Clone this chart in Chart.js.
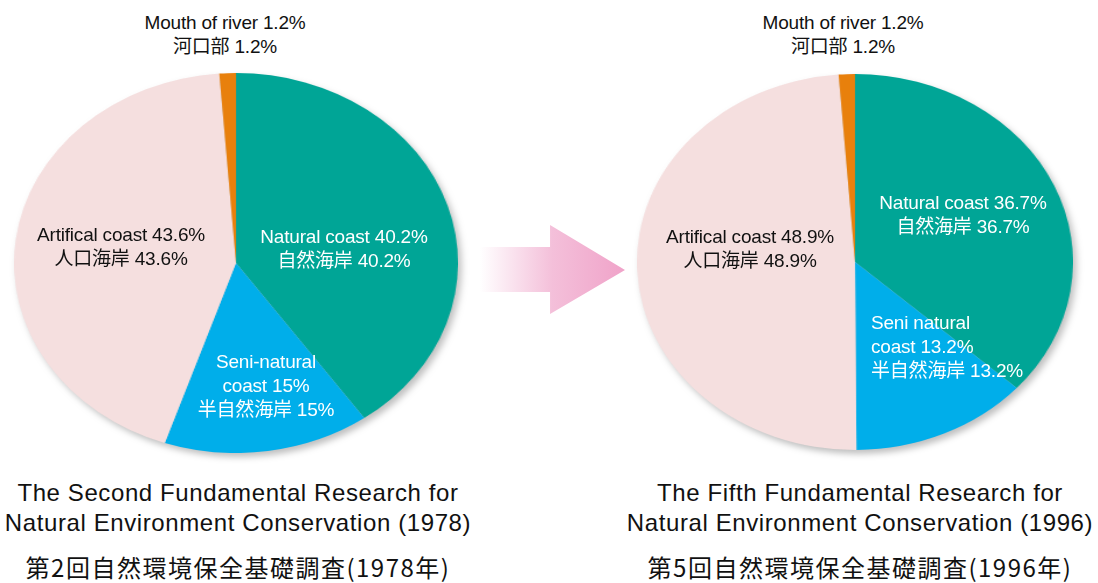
<!DOCTYPE html>
<html>
<head>
<meta charset="utf-8">
<script src="https://cdn.jsdelivr.net/npm/chart.js@4"></script>
<style>
  body { margin: 0; background: #ffffff; }
  #page { position: relative; width: 1098px; height: 583px; overflow: hidden;
          font-family: "Liberation Sans", Arial, "Noto Sans CJK JP", sans-serif; color: #111; }
  .pie { position: absolute; }
  .lbl { position: absolute; font-size: 19px; line-height: 24px; white-space: nowrap; letter-spacing: -0.2px; }
  .lbl.c { transform: translateX(-50%); text-align: center; }
  .lbl.w { color: #ffffff; }
  .title { position: absolute; transform: translateX(-50%); text-align: center; white-space: nowrap;
           font-size: 24px; line-height: 30px; letter-spacing: 0.6px; color: #111; }
  .title.ja { font-family: "Noto Sans CJK JP", sans-serif; font-size: 24px; letter-spacing: 1.5px; }
  #arrow { position: absolute; left: 480px; top: 225px; width: 145px; height: 89px;
           background: linear-gradient(to right, rgba(240,160,200,0) 0%, rgba(240,170,205,0.75) 50%, #f0a3c9 100%);
           clip-path: polygon(0 24.7%, 48.3% 24.7%, 48.3% 0, 100% 50.5%, 48.3% 100%, 48.3% 75.3%, 0 75.3%); }
</style>
</head>
<body>
<div id="page">
  <canvas id="pie1978" class="pie" width="380" height="380"></canvas>
  <canvas id="pie1996" class="pie" width="376" height="376"></canvas>
  <div id="arrow"></div>
  <div id="labels"></div>
</div>

<script>
// coast categories, in the order they go round the pie (clockwise from 12 o'clock)
const categoriesEn = ['Natural coast', 'Seni-natural coast', 'Artifical coast', 'Mouth of river'];
const categoriesJa = ['自然海岸', '半自然海岸', '人口海岸', '河口部'];

// shares in percent
const values1978 = [40.2, 15, 43.6, 1.2];
const values1996 = [36.7, 13.2, 48.9, 1.2];

// survey titles
const titles1978 = ['The Second Fundamental Research for', 'Natural Environment Conservation (1978)', '第2回自然環境保全基礎調査(1978年)'];
const titles1996 = ['The Fifth Fundamental Research for', 'Natural Environment Conservation (1996)', '第5回自然環境保全基礎調査(1996年)'];

// colours
const COLOR_NATURAL = '#00a596';
const COLOR_SEMI = '#00aeea';
const COLOR_ARTIFICIAL = '#f5dfdf';
const COLOR_MOUTH = '#e8800c';


function pct(v) {
    return v + '%';
}


// draws one pie; the canvas is stretched sideways so the pie becomes an ellipse like the original
function makePie(id, values, cx, cy, rx, ry) {
    const canvas = document.getElementById(id);
    const size = canvas.width;
    canvas.style.left = (cx - size / 2) + 'px';
    canvas.style.top = (cy - size / 2) + 'px';
    canvas.style.transform = 'scaleX(' + (rx / ry) + ')';
    canvas.style.filter = 'drop-shadow(3px 4px 3px rgba(0,0,0,0.25))';

    new Chart(canvas.getContext('2d'), {
        type: 'pie',
        data: {
            labels: categoriesEn,
            datasets: [{
                data: values,
                backgroundColor: [COLOR_NATURAL, COLOR_SEMI, COLOR_ARTIFICIAL, COLOR_MOUTH],
                borderWidth: 0
            }]
        },
        options: {
            responsive: false,
            animation: false,
            devicePixelRatio: 1,
            layout: { padding: 0 },
            plugins: {
                legend: { display: false },
                tooltip: { enabled: false }
            }
        }
    });
}


// puts a block of text on the page
function addLabel(lines, x, y, cls) {
    const div = document.createElement('div');
    div.className = 'lbl ' + cls;
    div.style.left = x + 'px';
    div.style.top = y + 'px';
    div.innerHTML = lines.join('<br>');
    document.getElementById('labels').appendChild(div);
}

// three title lines under a pie (two english, one japanese)
function addTitle(lines, x) {
    const tops = [478, 508, 552];
    for (let i = 0; i < lines.length; i++) {
        const div = document.createElement('div');
        div.className = i == 2 ? 'title ja' : 'title';
        div.style.left = x + 'px';
        div.style.top = tops[i] + 'px';
        div.textContent = lines[i];
        document.getElementById('labels').appendChild(div);
    }
}


makePie('pie1978', values1978, 236, 263, 222, 190);
makePie('pie1996', values1996, 855, 262, 218, 188);

// 1978 labels
addLabel([categoriesEn[3] + ' ' + pct(values1978[3]), categoriesJa[3] + ' ' + pct(values1978[3])], 225, 11, 'c');
addLabel([categoriesEn[2] + ' ' + pct(values1978[2]), categoriesJa[2] + ' ' + pct(values1978[2])], 121, 223, 'c');
addLabel([categoriesEn[0] + ' ' + pct(values1978[0]), categoriesJa[0] + ' ' + pct(values1978[0])], 344, 225, 'c w');
addLabel(['Seni-natural', 'coast ' + pct(values1978[1]), categoriesJa[1] + ' ' + pct(values1978[1])], 266, 350, 'c w');

// 1996 labels
addLabel([categoriesEn[3] + ' ' + pct(values1996[3]), categoriesJa[3] + ' ' + pct(values1996[3])], 843, 11, 'c');
addLabel([categoriesEn[2] + ' ' + pct(values1996[2]), categoriesJa[2] + ' ' + pct(values1996[2])], 750, 225, 'c');
addLabel([categoriesEn[0] + ' ' + pct(values1996[0]), categoriesJa[0] + ' ' + pct(values1996[0])], 963, 191, 'c w');
addLabel(['Seni natural', 'coast ' + pct(values1996[1]), categoriesJa[1] + ' ' + pct(values1996[1])], 871, 311, 'w');

// survey titles under each pie
addTitle(titles1978, 238);
addTitle(titles1996, 860);
</script>
</body>
</html>
